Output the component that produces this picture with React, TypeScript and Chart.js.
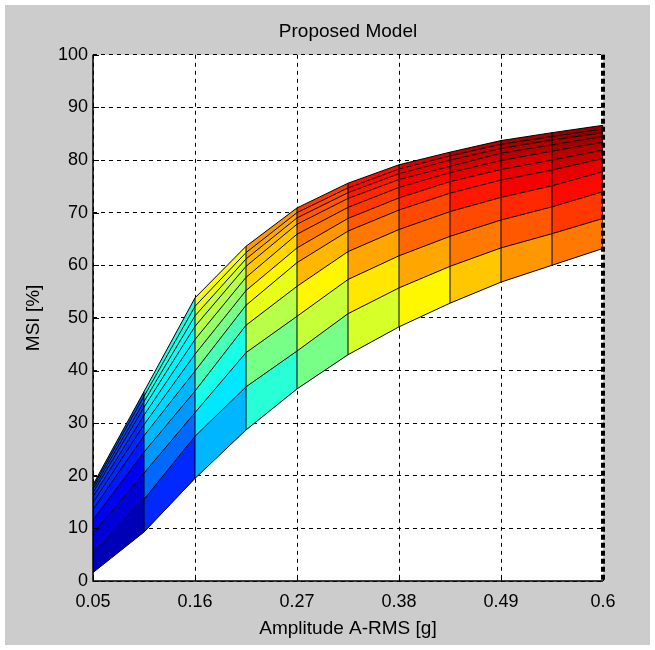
import React, { useEffect, useRef } from "react";
import { Chart, registerables } from "chart.js";

Chart.register(...registerables);

// Amplitude grid (x) of the surface
const amplitudes = [0.05, 0.105, 0.16, 0.215, 0.27, 0.325, 0.38, 0.435, 0.49, 0.545, 0.6];
const xTicks = [0.05, 0.16, 0.27, 0.38, 0.49, 0.6];
const yTicks = [0, 10, 20, 30, 40, 50, 60, 70, 80, 90, 100];

// MSI [%] along each surface row, from the lowest row to the highest
const msiLevel1 = [1.6, 9.3, 19.5, 28.7, 36.5, 43.0, 48.3, 52.8, 56.8, 60.0, 63.2];
const msiLevel2 = [5.6, 15.5, 27.5, 36.9, 43.7, 50.8, 55.7, 59.8, 63.3, 66.0, 68.9];
const msiLevel3 = [9.0, 20.5, 32.0, 43.4, 50.3, 57.3, 61.8, 65.5, 68.6, 71.1, 74.0];
const msiLevel4 = [11.6, 24.5, 36.1, 48.6, 56.0, 62.6, 66.8, 70.2, 72.9, 75.1, 77.8];
const msiLevel5 = [13.6, 27.6, 39.9, 52.4, 60.5, 66.5, 70.5, 73.7, 76.2, 78.1, 80.3];
const msiLevel6 = [14.9, 29.7, 43.1, 55.2, 63.3, 68.9, 72.8, 75.9, 78.2, 80.0, 81.9];
const msiLevel7 = [16.0, 31.5, 45.9, 57.7, 65.9, 71.0, 74.8, 77.6, 79.9, 81.7, 83.4];
const msiLevel8 = [16.8, 33.0, 48.4, 59.8, 67.8, 72.7, 76.3, 78.8, 81.3, 82.9, 84.5];
const msiLevel9 = [17.4, 34.1, 50.4, 61.2, 69.0, 73.8, 77.4, 80.0, 82.2, 83.8, 85.2];
const msiLevel10 = [17.9, 35.1, 52.2, 62.4, 70.0, 74.7, 78.3, 80.8, 83.0, 84.5, 85.9];
const msiLevel11 = [18.3, 36.0, 53.8, 63.6, 70.9, 75.6, 79.1, 81.5, 83.7, 85.2, 86.6];

const levels = [
  msiLevel1, msiLevel2, msiLevel3, msiLevel4, msiLevel5, msiLevel6,
  msiLevel7, msiLevel8, msiLevel9, msiLevel10, msiLevel11,
];

const allValues = levels.flat();
const cMin = Math.min(...allValues);
const cMax = Math.max(...allValues);

function jet(t: number): string {
  const idx = Math.max(0, Math.min(63, Math.floor(t * 64)));
  const u = (idx + 0.5) / 64;
  const cl = (v: number) => Math.max(0, Math.min(1, v));
  const r = cl(1.5 - Math.abs(4 * u - 3));
  const g = cl(1.5 - Math.abs(4 * u - 2));
  const b = cl(1.5 - Math.abs(4 * u - 1));
  return `rgb(${Math.round(r * 255)},${Math.round(g * 255)},${Math.round(b * 255)})`;
}

// flat face colour: taken from the face's upper-left vertex
function cellColor(level: number, i: number): string {
  const v = levels[level][i];
  return jet((v - cMin) / (cMax - cMin));
}

const FONT = "'Liberation Sans', Arial, Helvetica, sans-serif";

const framePlugin = {
  id: "frame",
  beforeDraw(chart: any) {
    const { ctx, chartArea } = chart;
    const { left, top, right, bottom } = chartArea;
    ctx.save();
    ctx.fillStyle = "#ffffff";
    ctx.fillRect(left, top, right - left, bottom - top);
    ctx.restore();
  },
  beforeDatasetsDraw(chart: any) {
    const { ctx, chartArea, scales } = chart;
    const { left, top, right, bottom } = chartArea;
    ctx.save();
    ctx.strokeStyle = "#000";
    ctx.lineWidth = 4;
    ctx.setLineDash([5, 3]);
    ctx.beginPath();
    ctx.moveTo(right, top);
    ctx.lineTo(right, bottom);
    ctx.stroke();
    ctx.setLineDash([]);
    ctx.lineWidth = 1.5;
    ctx.beginPath();
    ctx.moveTo(left, top);
    ctx.lineTo(left, bottom);
    ctx.lineTo(right, bottom);
    ctx.stroke();
    ctx.lineWidth = 1;
    ctx.beginPath();
    for (const v of yTicks) {
      const py = Math.round(scales.y.getPixelForValue(v)) + 0.5;
      ctx.moveTo(left, py);
      ctx.lineTo(left + 6, py);
    }
    for (const v of xTicks) {
      const px = Math.round(scales.x.getPixelForValue(v)) + 0.5;
      ctx.moveTo(px, bottom);
      ctx.lineTo(px, bottom - 6);
    }
    ctx.stroke();
    ctx.restore();
  },
};

export default function App() {
  const canvasRef = useRef<HTMLCanvasElement | null>(null);

  useEffect(() => {
    const canvas = canvasRef.current;
    if (!canvas) return;

    const rowSets = levels.map((row, k) => ({
      type: "line" as const,
      data: row.map((v, i) => ({ x: amplitudes[i], y: v })),
      borderColor: "#000",
      borderWidth: 1,
      pointRadius: 0,
      tension: 0,
      backgroundColor: "rgba(0,0,0,0)",
      fill: k === 0 ? false : "-1",
      segment:
        k === 0
          ? undefined
          : { backgroundColor: (sctx: any) => cellColor(k, sctx.p0DataIndex) },
    }));

    const bottomRow = levels[0];
    const topRow = levels[levels.length - 1];
    const columnSets = amplitudes.map((a, i) => ({
      type: "line" as const,
      data: [
        { x: a, y: bottomRow[i] },
        { x: a, y: topRow[i] },
      ],
      borderColor: "#000",
      borderWidth: 1,
      pointRadius: 0,
      fill: false,
    }));

    const chart = new Chart(canvas, {
      type: "line",
      data: { datasets: [...rowSets, ...columnSets] as any },
      plugins: [framePlugin],
      options: {
        animation: false,
        responsive: false,
        devicePixelRatio: 1,
        events: [],
        layout: { padding: { left: 0, right: 52, top: 0, bottom: 0 } },
        plugins: {
          legend: { display: false },
          tooltip: { enabled: false },
          filler: { drawTime: "beforeDatasetsDraw" },
          title: {
            display: true,
            fullSize: false,
            text: "Proposed Model",
            color: "#000",
            font: { family: FONT, size: 19, weight: "normal" },
            padding: { top: 20, bottom: 12 },
          },
        },
        scales: {
          x: {
            type: "linear",
            min: 0.05,
            max: 0.6,
            afterBuildTicks: (s: any) => {
              s.ticks = xTicks.map((v) => ({ value: v }));
            },
            afterFit: (s: any) => {
              s.height = 69;
            },
            ticks: {
              color: "#000",
              font: { family: FONT, size: 18 },
              padding: 10,
              maxRotation: 0,
              autoSkip: false,
              callback: (v: any) => String(v),
            },
            grid: { color: "#000", lineWidth: 1, drawTicks: false },
            border: { display: false, dash: [4, 4] },
            title: {
              display: true,
              text: "Amplitude A-RMS [g]",
              color: "#000",
              font: { family: FONT, size: 19 },
              padding: { top: 0, bottom: 10 },
            },
          },
          y: {
            type: "linear",
            min: 0,
            max: 100,
            afterBuildTicks: (s: any) => {
              s.ticks = yTicks.map((v) => ({ value: v }));
            },
            afterFit: (s: any) => {
              s.width = 93;
            },
            ticks: {
              color: "#000",
              font: { family: FONT, size: 18 },
              padding: 5,
              autoSkip: false,
              callback: (v: any) => String(v),
            },
            grid: { color: "#000", lineWidth: 1, drawTicks: false },
            border: { display: false, dash: [4, 4] },
            title: {
              display: true,
              text: "MSI [%]",
              color: "#000",
              font: { family: FONT, size: 19 },
              padding: { top: 22, bottom: 0 },
            },
          },
        },
      },
    });

    return () => chart.destroy();
  }, []);

  return (
    <div
      style={{
        position: "fixed",
        left: 0,
        top: 0,
        width: 655,
        height: 650,
        background: "#ffffff",
      }}
    >
      <div
        style={{
          position: "absolute",
          left: 5,
          top: 5,
          width: 645,
          height: 640,
          background: "#cccccc",
        }}
      />
      <canvas
        ref={canvasRef}
        width={655}
        height={650}
        style={{ position: "absolute", left: 0, top: 0, width: 655, height: 650 }}
      />
    </div>
  );
}
